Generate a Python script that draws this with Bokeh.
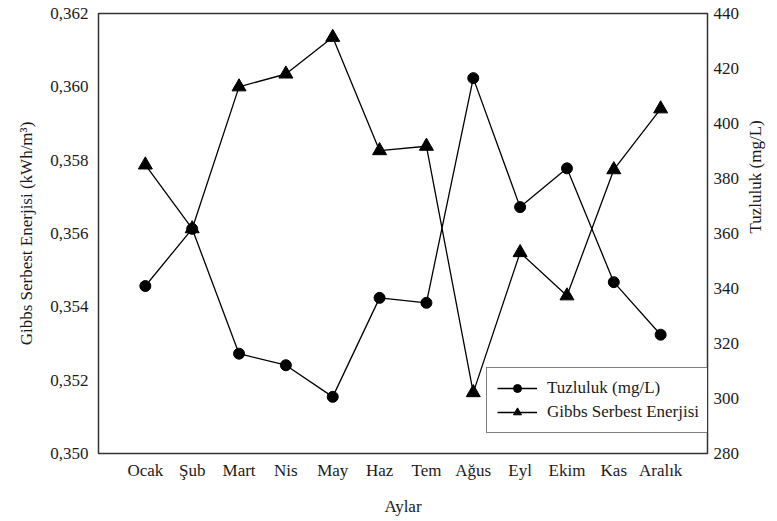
import math
from bokeh.plotting import figure
from bokeh.models import (Range1d, LinearAxis, FixedTicker, CustomJSTickFormatter,
                          Legend, LegendItem, ColumnDataSource)
from bokeh.embed import file_html
from bokeh.resources import INLINE

months = ["Ocak", "Şub", "Mart", "Nis", "May", "Haz", "Tem", "Ağus", "Eyl", "Ekim", "Kas", "Aralık"]
gibbs = [0.35787, 0.35613, 0.36000, 0.36035, 0.36135, 0.35826, 0.35838, 0.35166,
         0.35548, 0.35430, 0.35774, 0.35940]
salinity = [340.9, 361.7, 316.3, 312.1, 300.6, 336.6, 334.8, 416.5, 369.6, 383.7, 342.3, 323.2]
left_ticks = [0.350, 0.352, 0.354, 0.356, 0.358, 0.360, 0.362]
right_ticks = [280, 300, 320, 340, 360, 380, 400, 420, 440]

xpos = list(range(1, len(months) + 1))
src = ColumnDataSource(dict(x=xpos, g=gibbs, s=salinity))

FONT = "'Liberation Serif', 'Times New Roman', serif"
TXT = "#1a1a1a"
FS = "17px"

p = figure(width=777, height=521, output_backend="svg", toolbar_location=None,
           x_range=Range1d(0, 13), y_range=Range1d(0.350, 0.362),
           min_border_left=98, min_border_right=70, min_border_top=13, min_border_bottom=68)
p.extra_y_ranges = {"sal": Range1d(280, 440)}
p.xgrid.visible = False
p.ygrid.visible = False
p.outline_line_color = "#333333"
p.outline_line_width = 1.5
p.background_fill_color = "white"
p.border_fill_color = "white"

def style_axis(ax):
    ax.axis_line_color = None
    ax.major_tick_line_color = None
    ax.minor_tick_line_color = None
    ax.major_tick_out = 0
    ax.major_tick_in = 0
    ax.minor_tick_out = 0
    ax.minor_tick_in = 0
    ax.major_label_text_font = FONT
    ax.major_label_text_font_size = FS
    ax.major_label_text_color = TXT
    ax.axis_label_text_font = FONT
    ax.axis_label_text_font_size = FS
    ax.axis_label_text_font_style = "normal"
    ax.axis_label_text_color = TXT

xa = p.xaxis[0]
xa.ticker = FixedTicker(ticks=xpos)
xa.major_label_overrides = {i: m for i, m in zip(xpos, months)}
xa.axis_label = "Aylar"
xa.major_label_standoff = 7
xa.axis_label_standoff = 14
style_axis(xa)

ya = p.yaxis[0]
ya.ticker = FixedTicker(ticks=left_ticks)
ya.formatter = CustomJSTickFormatter(code="return tick.toFixed(3).replace('.', ',');")
ya.axis_label = "Gibbs Serbest Enerjisi (kWh/m³)"
ya.major_label_standoff = 10
ya.axis_label_standoff = 11
style_axis(ya)

ra = LinearAxis(y_range_name="sal", ticker=FixedTicker(ticks=right_ticks),
                axis_label="Tuzluluk (mg/L)")
ra.major_label_standoff = 6
ra.axis_label_standoff = 13
style_axis(ra)
if "axis_label_orientation" in LinearAxis.properties():
    ra.axis_label_orientation = math.pi / 2
p.add_layout(ra, "right")

l1 = p.line("x", "s", source=src, y_range_name="sal", line_color="black", line_width=1.3)
m1 = p.scatter("x", "s", source=src, y_range_name="sal", marker="circle", size=11,
               fill_color="black", line_color="black")
l2 = p.line("x", "g", source=src, line_color="black", line_width=1.3)
m2 = p.scatter("x", "g", source=src, marker="triangle", size=14,
               fill_color="black", line_color="black")

legend = Legend(items=[LegendItem(label="Tuzluluk (mg/L)", renderers=[l1, m1]),
                       LegendItem(label="Gibbs Serbest Enerjisi", renderers=[l2, m2])],
                location=(388, 20), border_line_color="black", border_line_width=1,
                padding=10, spacing=4, glyph_width=40, glyph_height=20, label_height=20,
                label_standoff=10, margin=0,
                label_text_font=FONT, label_text_font_size=FS, label_text_color=TXT,
                background_fill_alpha=1)
p.add_layout(legend, "center")

open("out.html", "w").write(file_html(p, INLINE))
